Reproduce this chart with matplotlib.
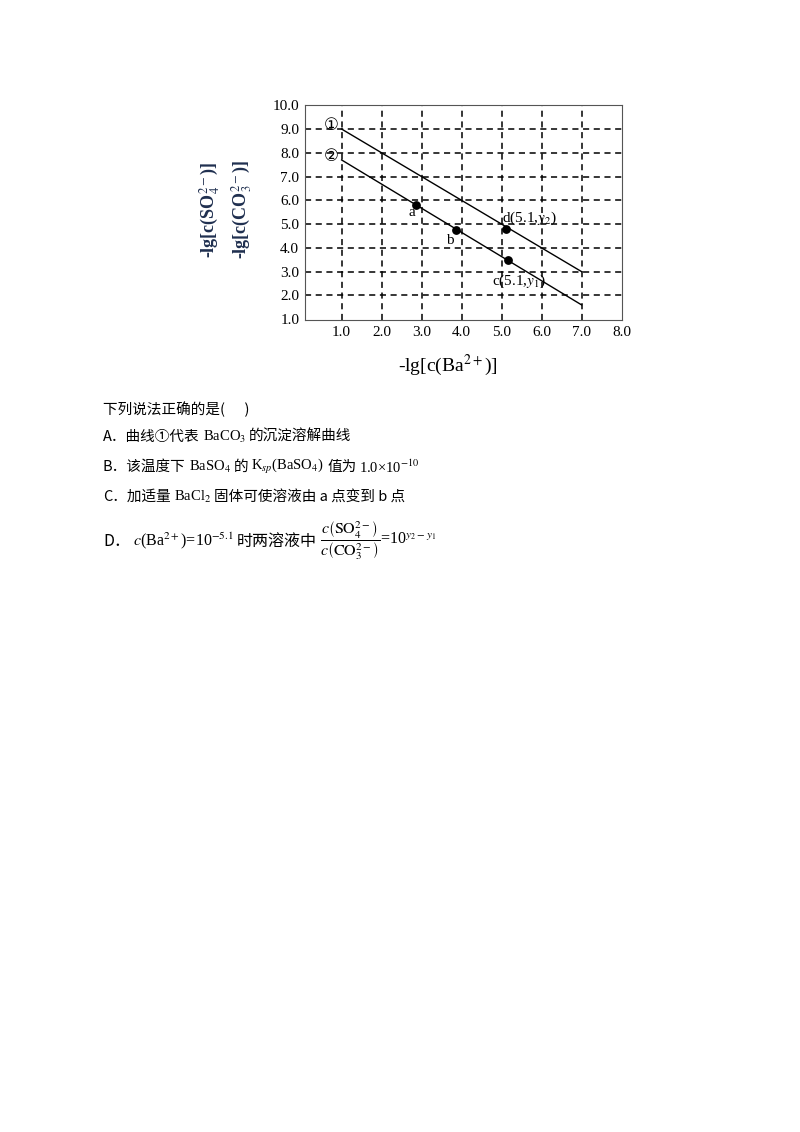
import matplotlib.pyplot as plt

plt.rcParams["font.family"] = ["Liberation Serif", "DejaVu Sans"]
plt.rcParams["mathtext.fontset"] = "stix"

# curve endpoints (-lg c(Ba2+), -lg c(anion))
line1_x = [1.0, 7.0]
line1_y = [9.0, 3.0]
line2_x = [1.0, 7.0]
line2_y = [7.7, 1.6]

point_names = ["a", "b", "d", "c"]
point_x = [2.85, 3.85, 5.1, 5.15]
point_y = [5.8, 4.75, 4.8, 3.5]

xticks = [1, 2, 3, 4, 5, 6, 7, 8]
yticks = [1, 2, 3, 4, 5, 6, 7, 8, 9, 10]

fig = plt.figure(figsize=(8, 11.32), dpi=100)
ax = fig.add_axes([0.381, 0.717, 0.396, 0.19])

for v in range(1, 8):
    ax.axvline(v, color="black", ls="--", lw=1.1, dashes=(4, 3))
for v in range(2, 10):
    ax.axhline(v, color="black", ls="--", lw=1.1, dashes=(4, 3))

ax.plot(line1_x, line1_y, color="black", lw=1)
ax.plot(line2_x, line2_y, color="black", lw=1)
ax.scatter(point_x, point_y, color="black", s=28, zorder=3)

ax.text(0.75, 9.15, "①", fontsize=12, family=["DejaVu Sans"], ha="center", va="center")
ax.text(0.75, 7.85, "②", fontsize=12, family=["DejaVu Sans"], ha="center", va="center")
ax.text(2.75, 5.35, "a", fontsize=11, ha="center")
ax.text(3.7, 4.15, "b", fontsize=11, ha="center")
ax.text(5.0, 5.1, r"d(5.1,$y_2$)", fontsize=11)
ax.text(4.75, 2.45, r"c(5.1,$y_1$)", fontsize=11)

ax.set_xlim(0.08, 8.0)
ax.set_ylim(0.95, 9.9)
ax.set_xticks(xticks)
ax.set_xticklabels([f"{v:.1f}" for v in xticks], fontsize=11)
ax.set_yticks(yticks)
ax.set_yticklabels([f"{v:.1f}" for v in yticks], fontsize=11)
ax.tick_params(length=0, pad=4)
for s in ax.spines.values():
    s.set_color("#555555")

fig.text(0.56, 0.677, r"-lg[c(Ba$^{2+}$)]", fontsize=14, ha="center", va="center")
fig.text(0.262, 0.815, r"-lg[c(SO$_4^{2-}$)]", fontsize=13, rotation=90,
         ha="center", va="center", color="#1f2f4f", weight="bold")
fig.text(0.302, 0.815, r"-lg[c(CO$_3^{2-}$)]", fontsize=13, rotation=90,
         ha="center", va="center", color="#1f2f4f", weight="bold")

cjk = ["Noto Sans CJK SC", "DejaVu Sans"]
serif = ["Liberation Serif", "DejaVu Sans"]
renderer = fig.canvas.get_renderer()


def line(y, pieces, fs=10.5):
    # place pieces one after another, left to right
    x = 103
    for s, fam in pieces:
        t = fig.text(x / 800, 1 - y / 1132, s, fontsize=fs, va="center", family=fam)
        x += t.get_window_extent(renderer).width + 3


line(409, [("下列说法正确的是(      )", cjk)])
line(437, [("A．曲线①代表", cjk), (r"BaCO$_3$", serif), ("的沉淀溶解曲线", cjk)])
line(467, [("B．该温度下", cjk), (r"BaSO$_4$", serif), ("的", cjk),
           (r"K$_{sp}$(BaSO$_4$)", serif), ("值为", cjk), (r"1.0×10$^{-10}$", serif)])
line(497, [("C．加适量", cjk), (r"BaCl$_2$", serif), ("固体可使溶液由 a 点变到 b 点", cjk)])
line(541, [("D．", cjk), (r"$c$(Ba$^{2+}$)=10$^{-5.1}$", serif), ("时两溶液中", cjk),
           (r"$\dfrac{c\left(\mathrm{SO}_4^{2-}\right)}{c\left(\mathrm{CO}_3^{2-}\right)}$=10$^{y_2-y_1}$",
            serif)], fs=11.5)

fig.savefig("out.png", dpi=100)
